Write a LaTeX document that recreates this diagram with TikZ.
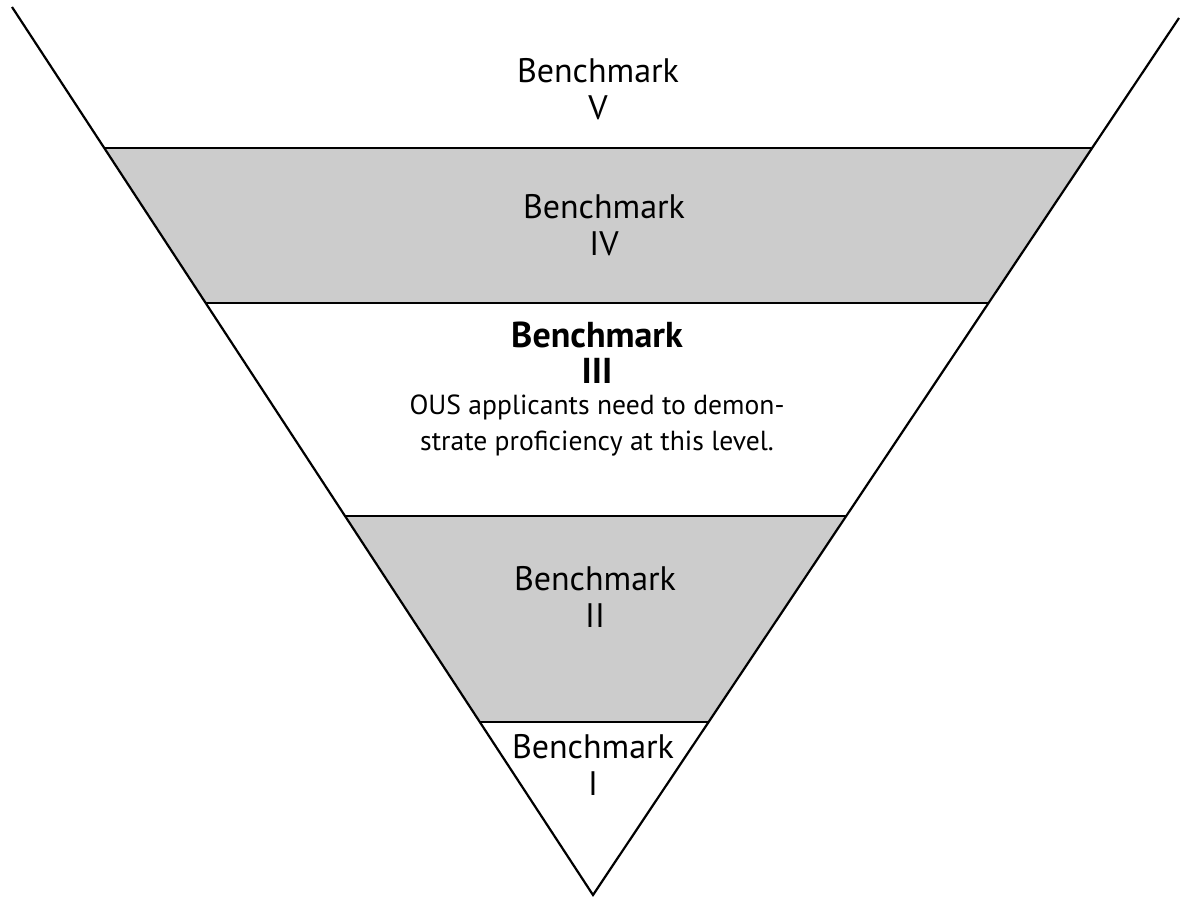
\documentclass[tikz,border=0pt]{standalone}
\usepackage{fontspec}
\setmainfont{PT Sans}
\usetikzlibrary{positioning}

\begin{document}
\begin{tikzpicture}[x=0.5pt, y=-0.5pt,
                    line width=1.1pt,
                    band/.style={fill=black!20, draw=none},
                    level/.style={align=center, inner sep=0, anchor=north,
                                  font=\fontsize{17}{18.5}\selectfont},
                    note/.style={align=center, inner sep=0, anchor=north,
                                 font=\fontsize{13.8}{18}\selectfont}]
                \useasboundingbox (0,0) rectangle (1188,897);

                % funnel corners
                \coordinate (tl) at (12,7);
                \coordinate (tr) at (1179,18);
                \coordinate (apex) at (593,895);

                % band edges, left and right
                \coordinate (l1) at (104.3,148);  \coordinate (r1) at (1092.1,148);
                \coordinate (l2) at (205.7,303);  \coordinate (r2) at (988.6,303);
                \coordinate (l3) at (345.0,516);  \coordinate (r3) at (846.2,516);
                \coordinate (l4) at (479.8,722);  \coordinate (r4) at (708.6,722);

                \path [band] (l1) -- (r1) -- (r2) -- (l2) -- cycle;
                \path [band] (l3) -- (r3) -- (r4) -- (l4) -- cycle;

                \draw (l1) -- (r1);
                \draw (l2) -- (r2);
                \draw (l3) -- (r3);
                \draw (l4) -- (r4);
                \draw (tl) -- (apex) -- (tr);

                \node (b5) [level] at (598,57) {Benchmark\\V};
                \node (b4) [level] at (604,193) {Benchmark\\IV};
                \node (b3) [level, font=\fontsize{18}{18}\selectfont\bfseries] at (597,321) {Benchmark\\III};
                \node (b3note) [note] at (597,394) {OUS applicants need to demon-\\strate proficiency at this level.};
                \node (b2) [level] at (595,565) {Benchmark\\II};
                \node (b1) [level] at (593,733) {Benchmark\\I};
            \end{tikzpicture}
\end{document}
